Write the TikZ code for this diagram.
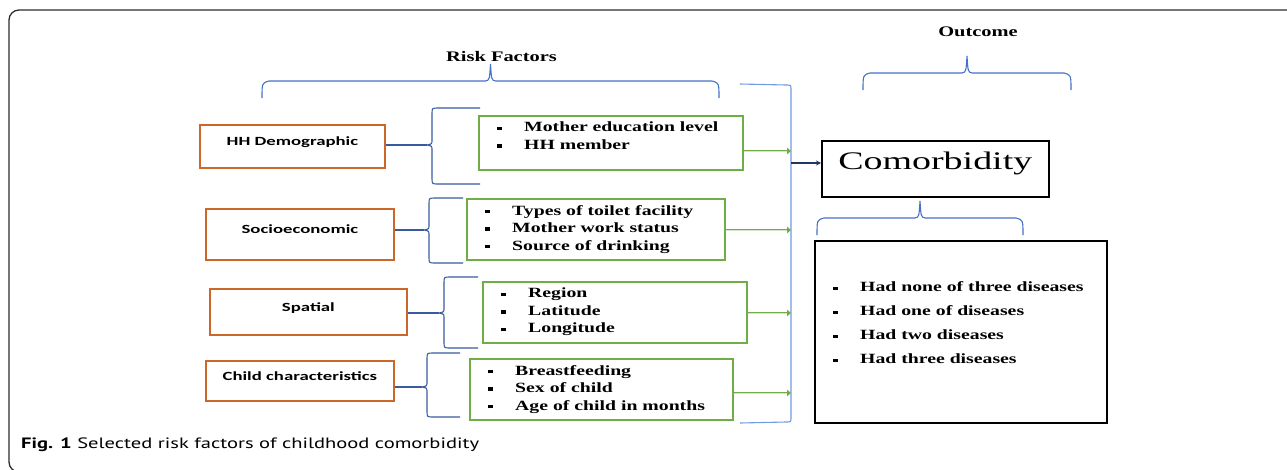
\documentclass[tikz,border=0pt]{standalone}
\usepackage{fontspec}
\setmainfont{Liberation Serif}
\newfontfamily\boxfont{Carlito}
\newfontfamily\capfont{PT Sans}
\usepackage{graphicx}
\usetikzlibrary{arrows.meta, positioning, calc}
\definecolor{orangeline}{RGB}{204,102,41}
\definecolor{greenline}{RGB}{112,173,71}
\definecolor{braceblue}{RGB}{68,114,196}
\definecolor{bracedark}{RGB}{55,90,160}
\definecolor{barblue}{RGB}{110,155,225}
\definecolor{navyline}{RGB}{31,56,100}
\definecolor{framegray}{RGB}{45,45,45}

% the figure is stretched sideways
\newcommand{\wide}[2][1.4]{\scalebox{#1}[1]{#2}}
\newcommand{\bul}[1]{\wide{\makebox[19.3pt][l]{\rule[1.8pt]{3.5pt}{3.6pt}}#1}}

% brace lying flat, tip up: left x, right x, y of the ends, name of the tip
\newcommand{\hbrc}[4]{%
  \draw[brace] (#1,#3) .. controls (#1,#3-15) .. ({#1+7},#3-17)
    -- ({(#1+#2)/2-5},#3-17) .. controls ({(#1+#2)/2-1},#3-18) .. ({(#1+#2)/2},#3-34) coordinate (#4)
    .. controls ({(#1+#2)/2+1},#3-18) .. ({(#1+#2)/2+5},#3-17)
    -- ({#2-7},#3-17) .. controls (#2,#3-15) .. (#2,#3);}
% brace standing up, tip left: bar x, top y, bottom y, tip y, end x, name of the tip
\newcommand{\vbrc}[6]{%
  \draw[brace, bracedark] (#5,#2) -- ({#1+6},#2) .. controls (#1,#2) .. (#1,{#2+6})
    -- (#1,{#4-5}) .. controls (#1,{#4-1}) .. ({#1-5},#4) coordinate (#6)
    .. controls (#1,{#4+1}) .. (#1,{#4+5})
    -- (#1,{#3-6}) .. controls (#1,#3) .. ({#1+6},#3) -- (#5,#3);}

\begin{document}
\begin{tikzpicture}[x=1pt, y=-1pt,
    factor/.style={draw=orangeline, line width=1.8pt, anchor=north west, inner sep=0,
      font=\boxfont\bfseries\fontsize{12.5}{15}\selectfont, text height=8pt, text depth=9pt},
    itembox/.style={draw=greenline, line width=1.8pt, anchor=north west, inner sep=0},
    itemlist/.style={anchor=north west, inner sep=0, align=left,
      font=\bfseries\fontsize{14.1}{17.5}\selectfont},
    blackbox/.style={draw=black, line width=1.6pt, anchor=north west, inner sep=0},
    heading/.style={inner sep=0, font=\bfseries\fontsize{14.6}{17}\selectfont},
    brace/.style={draw=braceblue, line width=1.1pt},
    dblarrow/.style={draw=greenline, line width=2.8pt, -{Triangle[length=4pt, width=6.5pt]}},
    dblcore/.style={draw=white!70!greenline, line width=0.9pt, shorten >=4.5pt},
    navyarrow/.style={draw=navyline, line width=1.8pt, -{Stealth[length=5pt, width=5pt]}}]

  \useasboundingbox (0,0) rectangle (1287,469);
  \draw[framegray, line width=1.3pt, rounded corners=10pt] (1300,10) -- (9,10) -- (9,472) -- (1300,472);

  % risk factors
  \node[factor, minimum width=185pt, minimum height=43pt] (o1) at (199,124) {\wide[1.5]{HH Demographic}};
  \node[factor, minimum width=188pt, minimum height=51pt] (o2) at (205,208) {\wide[1.5]{Socioeconomic}};
  \node[factor, minimum width=197pt, minimum height=46pt] (o3) at (209,288) {\wide[1.5]{Spatial}};
  \node[factor, minimum width=188pt, minimum height=40pt] (o4) at (205,360) {\wide[1.5]{Child characteristics}};

  \node[itembox, minimum width=264pt, minimum height=54pt] (g1) at (478,115) {};
  \node[itembox, minimum width=258pt, minimum height=61pt] (g2) at (466,198) {};
  \node[itembox, minimum width=264pt, minimum height=61pt] (g3) at (482,281) {};
  \node[itembox, minimum width=263pt, minimum height=61pt] (g4) at (469,358) {};

  \node[itemlist] (l1) at ([shift={(19,7)}]g1.north west) {\bul{Mother education level}\\ \bul{HH member}};
  \node[itemlist] (l2) at ([shift={(19,7)}]g2.north west) {\bul{Types of toilet facility}\\ \bul{Mother work status}\\ \bul{Source of drinking}};
  \node[itemlist] (l3) at ([shift={(19,7)}]g3.north west) {\bul{Region}\\ \bul{Latitude}\\ \bul{Longitude}};
  \node[itemlist] (l4) at ([shift={(19,7)}]g4.north west) {\bul{Breastfeeding}\\ \bul{Sex of child}\\ \bul{Age of child in months}};

  \vbrc{432}{108}{184}{145}{480}{t1}
  \vbrc{429}{198}{263}{230}{463}{t2}
  \vbrc{444}{277}{348}{313}{478}{t3}
  \vbrc{427}{353}{417}{387}{460}{t4}
  \foreach \i in {1,...,4}
    \draw[brace, bracedark] (t\i -| o\i.east) -- (t\i);

  \hbrc{262}{719}{98}{rb}
  \node[heading, above=2pt of rb, xshift=11pt] (rf) {\wide{Risk Factors}};

  % the bar that gathers them
  \draw[brace, barblue] (740,84) -- (786,85) .. controls (791,85) .. (791,90) -- (791,417)
    .. controls (791,422) .. (786,422) -- (740,423);
  \coordinate (r0) at (791,163);
  \coordinate (r1) at (791,151);
  \coordinate (r2) at (791,230);
  \coordinate (r3) at (791,313);
  \coordinate (r4) at (791,393);
  \foreach \i in {1,...,4}{
    \draw[dblarrow] (g\i.east |- r\i) -- (r\i);
    \draw[dblcore] (g\i.east |- r\i) -- (r\i);
  }

  % outcome
  \node[blackbox, minimum width=227pt, minimum height=56pt, text height=18pt, text depth=17pt,
    font=\fontsize{25.3}{30}\selectfont] (cm) at (821,140) {\wide[1.5]{Comorbidity}};
  \draw[navyarrow] (r0) -- (cm.west |- r0);

  \hbrc{863}{1071}{90}{ob}
  \node[heading, above=19pt of ob, xshift=11pt] (oh) {\wide{Outcome}};

  \hbrc{817}{1023}{235}{cb}
  \node[blackbox, minimum width=292pt, minimum height=182pt] (oc) at (814,240) {};
  \node[itemlist, font=\bfseries\fontsize{14.1}{24}\selectfont] (ol) at ([shift={(19,41.8)}]oc.north west)
    {\bul{Had none of three diseases}\\ \bul{Had one of diseases}\\ \bul{Had two diseases}\\ \bul{Had three diseases}};

  \node[anchor=base west, inner sep=0, font=\capfont\fontsize{15}{18}\selectfont] (fig) at (21,448)
    {\wide[1.37]{\textbf{Fig. 1} Selected risk factors of childhood comorbidity}};
\end{tikzpicture}
\end{document}
